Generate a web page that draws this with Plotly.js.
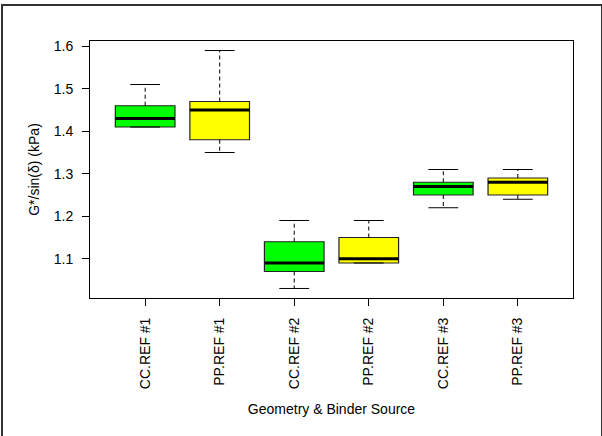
<!DOCTYPE html>
<html>
<head>
<meta charset="utf-8">
<script src="https://cdn.plot.ly/plotly-3.0.1.min.js"></script>
<style>
  html, body { margin:0; padding:0; background:#fff; }
  #wrap { position:relative; width:602px; height:436px; overflow:hidden; }
  #chart { position:absolute; left:0; top:0; width:602px; height:436px; }
  #frame { position:absolute; left:1px; top:4px; width:602px; height:440px; border:2px solid #333; box-sizing:border-box; pointer-events:none; }
</style>
</head>
<body>
<div id="wrap">
  <div id="chart"></div>
  <div id="frame"></div>
</div>
<script>
// Data
const categories = ["CC.REF #1", "PP.REF #1", "CC.REF #2", "PP.REF #2", "CC.REF #3", "PP.REF #3"];
const minVals    = [1.41, 1.35, 1.03, 1.09, 1.22, 1.24];
const q1Vals     = [1.41, 1.38, 1.07, 1.09, 1.25, 1.25];
const medianVals = [1.43, 1.45, 1.09, 1.10, 1.27, 1.28];
const q3Vals     = [1.46, 1.47, 1.14, 1.15, 1.28, 1.29];
const maxVals    = [1.51, 1.59, 1.19, 1.19, 1.31, 1.31];
const fillColors = ["#00ff00", "#ffff00", "#00ff00", "#ffff00", "#00ff00", "#ffff00"];
const yTicks     = [1.1, 1.2, 1.3, 1.4, 1.5, 1.6];

const positions = categories.map((c, i) => i + 1);
const boxWidth = 0.8;
const capHalf = boxWidth / 4;
const medHalf = boxWidth / 2;

const traces = [];

// Dashed whiskers
const wx = [], wy = [];
positions.forEach((p, i) => {
  wx.push(p, p, null, p, p, null);
  wy.push(q3Vals[i], maxVals[i], null, q1Vals[i], minVals[i], null);
});
traces.push({ type: "scatter", mode: "lines", x: wx, y: wy, hoverinfo: "skip",
  line: { color: "#000", width: 1, dash: "4px,3px" }, showlegend: false });

// Whisker caps (staples)
const cx = [], cy = [];
positions.forEach((p, i) => {
  cx.push(p - capHalf, p + capHalf, null, p - capHalf, p + capHalf, null);
  cy.push(maxVals[i], maxVals[i], null, minVals[i], minVals[i], null);
});
traces.push({ type: "scatter", mode: "lines", x: cx, y: cy, hoverinfo: "skip",
  line: { color: "#000", width: 1 }, showlegend: false });

// Boxes
positions.forEach((p, i) => {
  traces.push({
    type: "box",
    x: [p],
    q1: [q1Vals[i]], median: [medianVals[i]], q3: [q3Vals[i]],
    lowerfence: [q1Vals[i]], upperfence: [q3Vals[i]],
    width: boxWidth,
    whiskerwidth: 0,
    fillcolor: fillColors[i],
    line: { color: "#222", width: 1.2 },
    showlegend: false,
    hoverinfo: "skip"
  });
});

// Thick median lines
const mx = [], my = [];
positions.forEach((p, i) => {
  mx.push(p - medHalf, p + medHalf, null);
  my.push(medianVals[i], medianVals[i], null);
});
traces.push({ type: "scatter", mode: "lines", x: mx, y: my, hoverinfo: "skip",
  line: { color: "#000", width: 3 }, showlegend: false });

const font = { family: "Liberation Sans, Arial, Helvetica, sans-serif", size: 14, color: "#000" };

const layout = {
  width: 602, height: 436,
  margin: { l: 90, r: 29, t: 41, b: 137.5, pad: 0 },
  paper_bgcolor: "#fff", plot_bgcolor: "#fff",
  font: font,
  showlegend: false,
  xaxis: {
    range: [0.26, 6.74],
    tickmode: "array", tickvals: positions, ticktext: categories,
    tickangle: -90,
    ticks: "outside", ticklen: 7, tickwidth: 1, tickcolor: "#000",
    showline: true, mirror: true, linecolor: "#000", linewidth: 1,
    showgrid: false, zeroline: false,
    ticklabelstandoff: 6,
    tickfont: font,
    title: { text: "Geometry & Binder Source", font: font, standoff: 16 }
  },
  yaxis: {
    range: [1.0076, 1.6124],
    tickmode: "array", tickvals: yTicks, ticktext: yTicks.map(v => v.toFixed(1)),
    ticks: "outside", ticklen: 7, tickwidth: 1, tickcolor: "#000",
    showline: true, mirror: true, linecolor: "#000", linewidth: 1,
    showgrid: false, zeroline: false,
    ticklabelstandoff: 6,
    tickfont: font,
    title: { text: "G*/sin(δ) (kPa)", font: font, standoff: 10 }
  }
};

Plotly.newPlot("chart", traces, layout, { staticPlot: true, displayModeBar: false });
</script>
</body>
</html>
